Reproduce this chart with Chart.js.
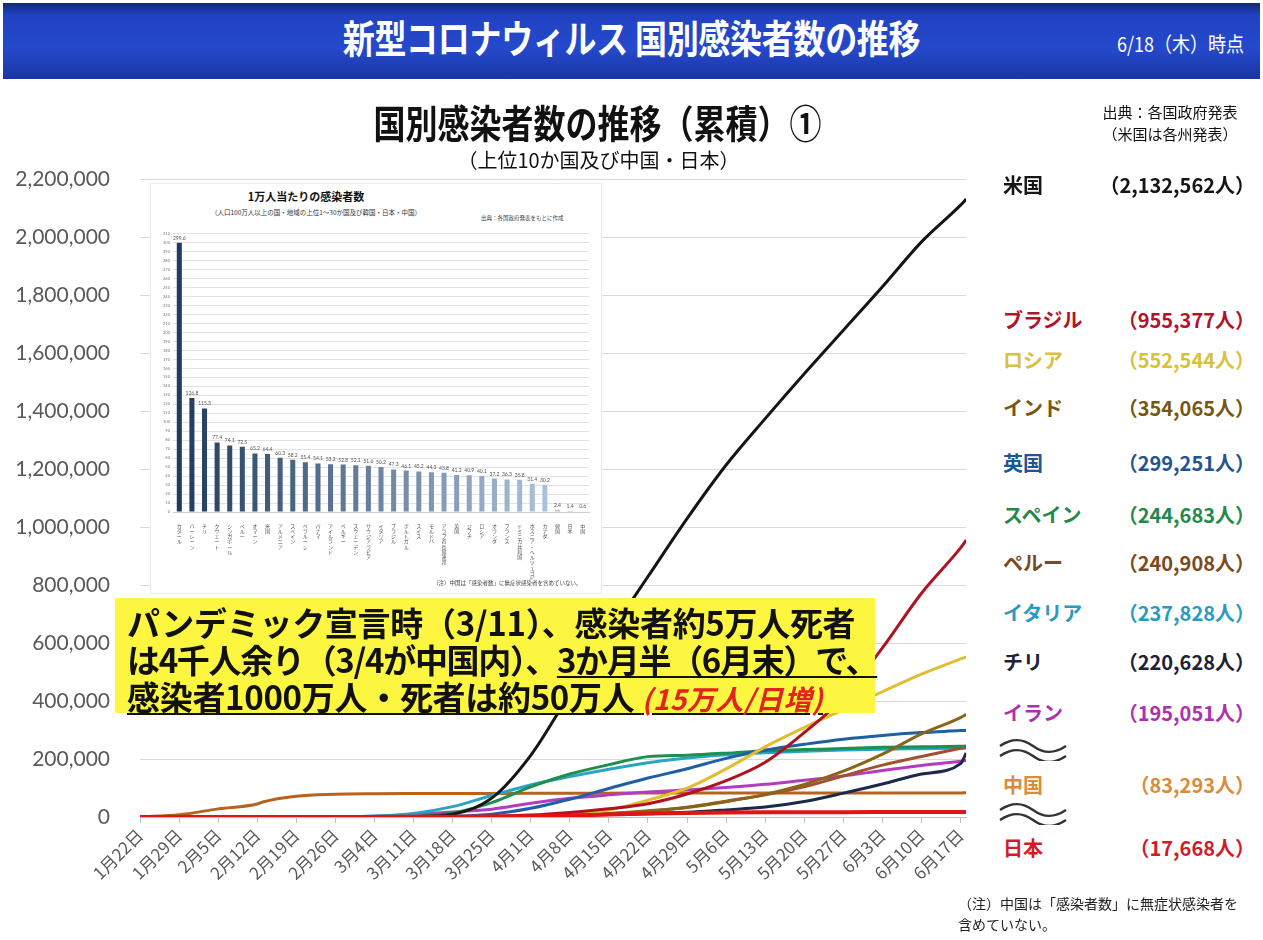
<!DOCTYPE html>
<html lang="ja">
<head>
<meta charset="utf-8">
<title>新型コロナウィルス 国別感染者数の推移</title>
<script src="https://cdn.jsdelivr.net/npm/chart.js@4.4.1/dist/chart.umd.min.js"></script>
<style>
  html, body { margin: 0; padding: 0; background: #fff; }
  body { width: 1263px; height: 940px; position: relative; overflow: hidden;
         font-family: "Noto Sans CJK JP", sans-serif; color: #111; }
  .abs { position: absolute; white-space: nowrap; }
  #header { left: 3px; top: 3px; width: 1257px; height: 76px;
            background: linear-gradient(180deg, #10287f 0%, #2143c2 16%, #2549cc 60%, #1a36a4 100%); }
  #header .title { left: 0; width: 1257px; top: 10px; text-align: center; color: #fff; font-weight: 700;
                   font-size: 32px; letter-spacing: -0.3px; transform: scaleY(1.2); }
  #header .date { right: 16px; top: 27px; color: #fff; font-size: 18px; transform: scaleY(1.15); }
  #mainTitle { left: 0; width: 1195px; top: 98px; text-align: center; font-weight: 700; font-size: 32px;
               transform: scaleY(1.2); }
  #subTitle { left: 0; width: 1197px; top: 145px; text-align: center; font-size: 20px; }
  .source { left: 1090px; width: 160px; text-align: center; font-size: 15px; }
  #chartBox { left: 0; top: 137px; width: 977px; height: 773px; }
  #inset { left: 150px; top: 183px; width: 450px; height: 409px; background: #fff; border: 1px solid #ececec; }
  #inset .t1 { left: 0; width: 310px; top: 4px; text-align: center; font-size: 11px; font-weight: 700; }
  #inset .t2 { left: 0; width: 330px; top: 23px; text-align: center; font-size: 6.5px; color: #333; }
  #inset .t3 { left: 330px; top: 30px; font-size: 5.5px; color: #444; }
  #inset .t4 { left: 282px; top: 395px; font-size: 5.5px; color: #444; }
  #insetBox { left: 0; top: 44px; width: 450px; height: 352px; }
  #callout { left: 115px; top: 598px; width: 760px; height: 115px; background: #fdf640;
             font-size: 33px; font-weight: 700; line-height: 37px; padding: 6px 0 0 12px; box-sizing: border-box;
             letter-spacing: -0.3px; }
  #callout .l2 { letter-spacing: -1.3px; }
  #callout u { text-decoration-thickness: 2px; text-underline-offset: 3px; }
  #callout .red { color: #e0241b; font-style: italic; font-size: 28px; letter-spacing: 0.5px; }
  .lg { font-size: 20px; font-weight: 700; line-height: 24px; }
  .note { left: 958px; font-size: 14px; color: #222; }
</style>
</head>
<body>
<div id="header" class="abs">
  <div class="abs title">新型コロナウィルス 国別感染者数の推移</div>
  <div class="abs date">6/18（木）時点</div>
</div>

<div id="chartBox" class="abs"><canvas id="trendChart"></canvas></div>

<div id="mainTitle" class="abs">国別感染者数の推移（累積）①</div>
<div id="subTitle" class="abs">（上位10か国及び中国・日本）</div>
<div class="abs source" style="top:101px">出典：各国政府発表</div>
<div class="abs source" style="top:123px">（米国は各州発表）</div>

<div id="inset" class="abs">
  <div class="abs t1">1万人当たりの感染者数</div>
  <div class="abs t2">（人口100万人以上の国・地域の上位1～30か国及び韓国・日本・中国）</div>
  <div class="abs t3">出典：各国政府発表をもとに作成</div>
  <div id="insetBox" class="abs"><canvas id="perCapitaChart"></canvas></div>
  <div class="abs t4">（注）中国は「感染者数」に無症状感染者を含めていない。</div>
</div>

<div id="callout" class="abs">パンデミック宣言時（3/11）、感染者約5万人死者<br><span class="l2">は4千人余り（3/4が中国内）、<u>3か月半（6月末）で、</u></span><br><u>感染者1000万人・死者は約50万人 <span class="red">(15万人/日増)</span></u></div>

<div id="legend"></div>

<svg class="abs" style="left:998px;top:737px" width="70" height="24">
  <path d="M2,9 C14,1 24,1 35,9 S56,17 68,9" fill="none" stroke="#333" stroke-width="2.5"/>
  <path d="M2,19 C14,11 24,11 35,19 S56,27 68,19" fill="none" stroke="#333" stroke-width="2.5"/>
</svg>
<svg class="abs" style="left:998px;top:801px" width="70" height="24">
  <path d="M2,9 C14,1 24,1 35,9 S56,17 68,9" fill="none" stroke="#333" stroke-width="2.5"/>
  <path d="M2,19 C14,11 24,11 35,19 S56,27 68,19" fill="none" stroke="#333" stroke-width="2.5"/>
</svg>

<div class="abs note" style="top:893px">（注）中国は「感染者数」に無症状感染者を</div>
<div class="abs note" style="top:914px">含めていない。</div>

<script>
// x axis: day index counted from 1/22
const tickDays = [0, 7, 14, 21, 28, 35, 42, 49, 56, 63, 70, 77, 84, 91, 98, 105, 112, 119, 126, 133, 140, 147];
const tickLabels = ['1月22日', '1月29日', '2月5日', '2月12日', '2月19日', '2月26日', '3月4日', '3月11日',
  '3月18日', '3月25日', '4月1日', '4月8日', '4月15日', '4月22日', '4月29日', '5月6日', '5月13日',
  '5月20日', '5月27日', '6月3日', '6月10日', '6月17日'];

// days at which each series value below is read
const pointDays = [0, 7, 14, 21, 22, 28, 35, 42, 49, 56, 63, 70, 77, 84, 91, 98, 105, 112, 119, 126, 133, 140, 147, 148];

const usCases     = [1, 5, 12, 13, 14, 15, 59, 150, 1300, 9400, 65000, 213000, 425000, 630000, 830000, 1030000, 1215000, 1375000, 1530000, 1680000, 1830000, 1985000, 2112000, 2132562];
const brazilCases = [0, 0, 0, 0, 0, 0, 1, 3, 52, 621, 2433, 6836, 15927, 28320, 45757, 79361, 125218, 188974, 291579, 411821, 584016, 772416, 928834, 955377];
const russiaCases = [0, 0, 0, 0, 0, 0, 2, 3, 20, 147, 658, 2777, 8672, 24490, 57999, 99399, 165929, 242271, 308705, 370680, 432277, 493023, 545458, 552544];
const indiaCases  = [0, 1, 3, 3, 3, 3, 3, 28, 62, 151, 657, 1998, 5916, 12322, 21370, 33062, 52987, 78055, 112028, 158086, 216824, 286605, 343091, 354065];
const ukCases     = [0, 0, 2, 9, 9, 9, 13, 87, 459, 2642, 9640, 29865, 61474, 98476, 134638, 166441, 202359, 230985, 250908, 268619, 281661, 291409, 298136, 299251];
const spainCases  = [0, 0, 1, 2, 2, 2, 13, 222, 2277, 13910, 49515, 104118, 148220, 180659, 208389, 213435, 220325, 228691, 232555, 236259, 240326, 242280, 244328, 244683];
const peruCases   = [0, 0, 0, 0, 0, 0, 0, 0, 11, 145, 480, 1323, 4342, 11475, 19250, 33931, 54817, 76306, 104020, 141779, 178914, 208823, 237156, 240908];
const italyCases  = [0, 0, 2, 3, 3, 3, 453, 3089, 12462, 35713, 74386, 110574, 139422, 165155, 187327, 203591, 214457, 222104, 227364, 231139, 234013, 235763, 237500, 237828];
const chileCases  = [0, 0, 0, 0, 0, 0, 0, 1, 23, 238, 1142, 3404, 5546, 8273, 11296, 16023, 24581, 34381, 53617, 82289, 113628, 148496, 184449, 220628];
const iranCases   = [0, 0, 0, 0, 0, 2, 139, 2922, 9000, 17361, 27017, 47593, 64586, 76389, 85996, 93657, 101650, 112725, 126949, 141591, 160696, 177938, 192439, 195051];
const chinaCases  = [571, 7711, 28018, 44653, 52000, 72000, 78497, 80270, 80793, 80928, 81285, 81554, 81865, 82295, 82788, 82858, 82885, 82926, 82967, 82995, 83022, 83057, 83265, 83293];
const japanCases  = [0, 7, 25, 28, 29, 73, 189, 293, 620, 878, 1307, 2384, 4768, 8582, 11772, 14088, 15354, 16079, 16424, 16683, 17018, 17332, 17628, 17668];

// inset: cases per 10,000 people
const perCapitaLabels = ['カタール', 'バーレーン', 'チリ', 'クウェート', 'シンガポール', 'ペルー', 'オマーン', '米国',
  'アルメニア', 'スペイン', 'ベラルーシ', 'パナマ', 'アイルランド', 'ベルギー', 'スウェーデン', 'サウジアラビア',
  'イタリア', 'ブラジル', 'ポルトガル', 'スイス', 'モルドバ', 'アラブ首長国連邦', '英国', 'ジブチ', 'ロシア',
  'オランダ', 'フランス', 'ドミニカ共和国', 'ボスニア・ヘルツェゴビナ', 'カナダ', '韓国', '日本', '中国'];
const perCapitaValues = [299.6, 126.8, 115.3, 77.4, 74.1, 72.5, 65.2, 64.4, 60.3, 58.2, 55.4, 54.1, 53.2, 52.8,
  52.1, 51.6, 50.2, 47.3, 46.1, 45.2, 44.3, 43.8, 41.2, 40.9, 40.1, 37.2, 36.3, 35.8, 31.4, 30.2, 2.4, 1.4, 0.6];

// legend rows, top to bottom (page y of each row centre)
const legendRowY = [185, 320, 360, 408, 463, 515, 563, 613, 662, 713, 785, 848];

document.addEventListener('DOMContentLoaded', function() {
    const countries = [
        { name: '米国',     data: usCases,     line: '#151515', text: '#151515' },
        { name: 'ブラジル', data: brazilCases, line: '#b0121f', text: '#b3122a' },
        { name: 'ロシア',   data: russiaCases, line: '#e2be2e', text: '#d8c23c' },
        { name: 'インド',   data: indiaCases,  line: '#8a6418', text: '#765812' },
        { name: '英国',     data: ukCases,     line: '#1f5fa6', text: '#1f5591' },
        { name: 'スペイン', data: spainCases,  line: '#1f8f4e', text: '#23884e' },
        { name: 'ペルー',   data: peruCases,   line: '#a0522d', text: '#7b4a1e' },
        { name: 'イタリア', data: italyCases,  line: '#2aa3c4', text: '#2b9ac0' },
        { name: 'チリ',     data: chileCases,  line: '#1b2a4a', text: '#1c2238' },
        { name: 'イラン',   data: iranCases,   line: '#b43cc0', text: '#b02fae' },
        { name: '中国',     data: chinaCases,  line: '#b8621b', text: '#d98c3a' },
        { name: '日本',     data: japanCases,  line: '#e01414', text: '#d11a2a' }
    ];

    // Legend column on the right
    const legend = document.getElementById('legend');
    countries.forEach((c, i) => {
        const last = c.data[c.data.length - 1];
        const y = legendRowY[i] - 12;
        legend.insertAdjacentHTML('beforeend',
            `<div class="abs lg" style="left:1003px;top:${y}px;color:${c.text}">${c.name}</div>` +
            `<div class="abs lg" style="right:8px;top:${y}px;color:${c.text}">（${last.toLocaleString('en-US')}人）</div>`);
    });

    // Cumulative cases line chart
    new Chart(document.getElementById('trendChart'), {
        type: 'line',
        data: {
            datasets: countries.map(c => ({
                label: c.name,
                data: pointDays.map((d, j) => ({ x: d, y: c.data[j] })),
                borderColor: c.line,
                backgroundColor: c.line,
                borderWidth: c.name === '日本' ? 4 : 3,
                pointRadius: 0,
                cubicInterpolationMode: 'monotone',
                order: c.name === '日本' ? -1 : 0
            }))
        },
        options: {
            responsive: true,
            maintainAspectRatio: false,
            animation: false,
            layout: { padding: { top: 4 } },
            plugins: { legend: { display: false }, tooltip: { enabled: false } },
            scales: {
                x: {
                    type: 'linear',
                    min: 0,
                    max: 148,
                    afterBuildTicks: axis => { axis.ticks = tickDays.map(v => ({ value: v })); },
                    afterFit: axis => { axis.height = 93; },
                    ticks: {
                        autoSkip: false,
                        minRotation: 45,
                        maxRotation: 45,
                        padding: 2,
                        color: '#595959',
                        font: { family: 'Noto Sans CJK JP', size: 17 },
                        callback: value => tickLabels[tickDays.indexOf(value)]
                    },
                    grid: { drawOnChartArea: false, tickLength: 6, color: '#bfbfbf' },
                    border: { display: true, color: '#bfbfbf' }
                },
                y: {
                    min: 0,
                    max: 2200000,
                    afterFit: axis => { axis.width = 140; },
                    ticks: {
                        stepSize: 200000,
                        padding: 30,
                        color: '#595959',
                        font: { family: 'Lato', size: 21 },
                        callback: value => value.toLocaleString('en-US')
                    },
                    grid: { color: '#d9d9d9', drawTicks: false },
                    border: { display: false }
                }
            }
        }
    });

    // Inset: cases per 10,000 people
    const barLabelPlugin = {
        id: 'barLabels',
        afterDatasetsDraw(chart) {
            const ctx = chart.ctx;
            ctx.save();
            ctx.font = '5px Lato';
            ctx.fillStyle = '#555';
            ctx.textAlign = 'center';
            chart.getDatasetMeta(0).data.forEach((bar, i) => {
                ctx.fillText(perCapitaValues[i].toFixed(1), bar.x, bar.y - 3);
            });
            ctx.restore();
        }
    };

    const dark = [31, 58, 92], light = [185, 207, 232];
    new Chart(document.getElementById('perCapitaChart'), {
        type: 'bar',
        data: {
            labels: perCapitaLabels,
            datasets: [{
                data: perCapitaValues,
                barPercentage: 0.4,
                categoryPercentage: 1,
                backgroundColor: context => {
                    const t = context.dataIndex / (perCapitaValues.length - 1);
                    const c = dark.map((d, k) => Math.round(d + (light[k] - d) * t));
                    return `rgb(${c[0]},${c[1]},${c[2]})`;
                }
            }]
        },
        options: {
            responsive: true,
            maintainAspectRatio: false,
            animation: false,
            layout: { padding: { right: 12, top: 4 } },
            plugins: { legend: { display: false }, tooltip: { enabled: false } },
            scales: {
                x: {
                    afterFit: axis => { axis.height = 68; },
                    grid: { display: false },
                    border: { color: '#cfcfcf' },
                    ticks: {
                        autoSkip: false,
                        maxRotation: 0,
                        padding: 3,
                        color: '#555',
                        font: { family: 'Noto Sans CJK JP', size: 5, lineHeight: 1.05 },
                        callback: function(value) { return Array.from(this.getLabelForValue(value)); }
                    }
                },
                y: {
                    min: 0,
                    max: 310,
                    afterFit: axis => { axis.width = 22; },
                    ticks: {
                        stepSize: 10,
                        autoSkip: false,
                        padding: 3,
                        color: '#777',
                        font: { family: 'Lato', size: 4 }
                    },
                    grid: { color: '#e2e2e2', drawTicks: false },
                    border: { display: false }
                }
            }
        },
        plugins: [barLabelPlugin]
    });
});
</script>
</body>
</html>
